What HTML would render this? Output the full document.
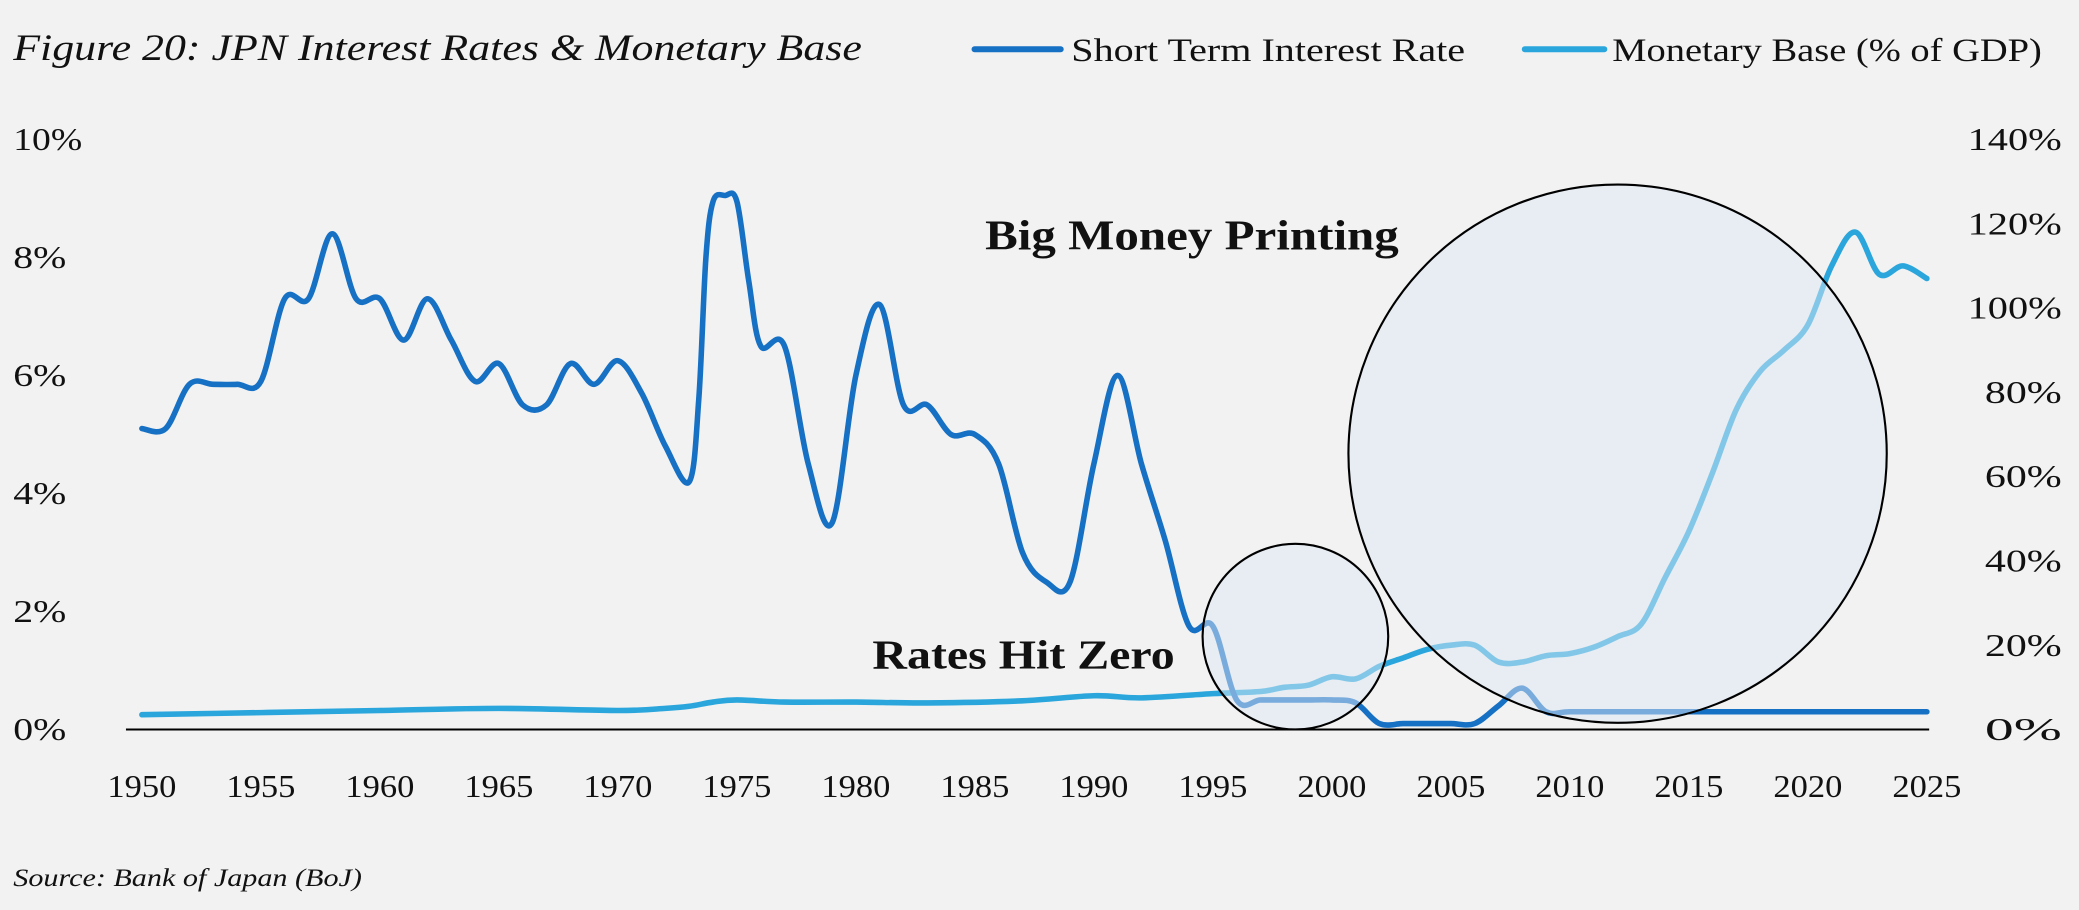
<!DOCTYPE html>
<html><head><meta charset="utf-8"><style>
html,body{margin:0;padding:0;background:#f2f2f2;}
svg{display:block;}
text{font-family:"Liberation Serif",serif;fill:#111;}
</style></head><body>
<svg id="s" width="2079" height="910" viewBox="0 0 1568 686" xmlns="http://www.w3.org/2000/svg">
<rect width="1568" height="686" fill="#f2f2f2"/>
<text x="10" y="45" font-size="28" font-style="italic" textLength="640" lengthAdjust="spacingAndGlyphs">Figure 20: JPN Interest Rates &amp; Monetary Base</text>
<line x1="735" y1="37" x2="800" y2="37" stroke="#1670c4" stroke-width="4.5" stroke-linecap="round"/>
<text x="808" y="46" font-size="25" textLength="297" lengthAdjust="spacingAndGlyphs">Short Term Interest Rate</text>
<line x1="1150" y1="37" x2="1210" y2="37" stroke="#2aa6dc" stroke-width="4.5" stroke-linecap="round"/>
<text x="1216" y="46" font-size="25" textLength="324" lengthAdjust="spacingAndGlyphs">Monetary Base (% of GDP)</text>
<g font-size="24" text-anchor="start" id="ly"></g>
<g font-size="24" text-anchor="end" id="ry"></g>
<g font-size="24" text-anchor="middle" id="xl"></g>
<path id="base" fill="none" stroke="#2aa6dc" stroke-width="4.2" stroke-linejoin="round" stroke-linecap="round"/>
<path id="rate" fill="none" stroke="#1670c4" stroke-width="4.2" stroke-linejoin="round" stroke-linecap="round"/>
<line x1="95" y1="550" x2="1455" y2="550" stroke="#000" stroke-width="1.5"/>
<circle cx="977" cy="480" r="70" fill="#dce8f4" fill-opacity="0.5" stroke="#000" stroke-width="1.6"/>
<circle cx="1220" cy="342" r="203" fill="#dce8f4" fill-opacity="0.5" stroke="#000" stroke-width="1.6"/>
<text x="743" y="188" font-size="32" font-weight="bold" textLength="312" lengthAdjust="spacingAndGlyphs">Big Money Printing</text>
<text x="658" y="504" font-size="31" font-weight="bold" textLength="228" lengthAdjust="spacingAndGlyphs">Rates Hit Zero</text>
<text x="10" y="668" font-size="19" font-style="italic" textLength="263" lengthAdjust="spacingAndGlyphs">Source: Bank of Japan (BoJ)</text>
</svg>
<script>
var NS="http://www.w3.org/2000/svg";
function X(y){return 107+(y-1950)*17.95;}
function YL(v){return 550-v*44.5;}
function YR(v){return 550-v*445/140;}
function t(g,x,y,s,w){var e=document.createElementNS(NS,"text");e.setAttribute("x",x);e.setAttribute("y",y);if(w){e.setAttribute("textLength",w);e.setAttribute("lengthAdjust","spacingAndGlyphs");}e.textContent=s;document.getElementById(g).appendChild(e);}
for(var i=0;i<=10;i+=2)t("ly",10,YL(i)+8,i+"%",i==10?52:40);
for(var i=0;i<=140;i+=20)t("ry",1555,YR(i)+8,i+"%",i>=100?71:58);
for(var y=1950;y<=2025;y+=5)t("xl",X(y),601,y,52);
function path(d,fy){var p=d.map(function(a){return[X(a[0]),fy(a[1])];});
var s="M"+p[0][0]+","+p[0][1];
for(var i=0;i<p.length-1;i++){var p0=p[i-1]||p[i],p1=p[i],p2=p[i+1],p3=p[i+2]||p2;
var c1=[p1[0]+(p2[0]-p0[0])/6,p1[1]+(p2[1]-p0[1])/6],c2=[p2[0]-(p3[0]-p1[0])/6,p2[1]-(p3[1]-p1[1])/6];
s+=" C"+c1+" "+c2+" "+p2;}return s;}
var rate=[[1950,5.1],[1951,5.1],[1952,5.85],[1953,5.85],[1954,5.85],[1955,5.9],[1956,7.3],[1957,7.3],[1958,8.4],[1959,7.3],[1960,7.3],[1961,6.6],[1962,7.3],[1963,6.6],[1964,5.9],[1965,6.2],[1966,5.5],[1967,5.5],[1968,6.2],[1969,5.85],[1970,6.25],[1971,5.7],[1972,4.8],[1973,4.2],[1973.4,5.6],[1973.7,8.0],[1974,8.95],[1974.5,9.05],[1975,8.95],[1975.5,7.6],[1976,6.5],[1977,6.5],[1978,4.5],[1979,3.5],[1980,6.0],[1981,7.2],[1982,5.5],[1983,5.5],[1984,5.0],[1985,5.0],[1986,4.5],[1987,3.0],[1988,2.5],[1989,2.5],[1990,4.5],[1991,6.0],[1992,4.5],[1993,3.2],[1994,1.75],[1995,1.75],[1996,0.5],[1997,0.5],[1998,0.5],[1999,0.5],[2000,0.5],[2001,0.45],[2002,0.1],[2003,0.1],[2004,0.1],[2005,0.1],[2006,0.1],[2007,0.4],[2008,0.7],[2009,0.3],[2010,0.3],[2012,0.3],[2015,0.3],[2020,0.3],[2025,0.3]];
var base=[[1950,3.5],[1955,4],[1960,4.5],[1965,5],[1970,4.5],[1972,5],[1973,5.5],[1974,6.5],[1975,7],[1977,6.5],[1980,6.5],[1983,6.3],[1987,6.8],[1990,8],[1992,7.5],[1995,8.5],[1997,9],[1998,10],[1999,10.5],[2000,12.5],[2001,12],[2002,15],[2003,17],[2004,19],[2005,20],[2006,20],[2007,16],[2008,16],[2009,17.5],[2010,18],[2011,19.5],[2012,22],[2013,25],[2014,36],[2015,47],[2016,61],[2017,76],[2018,85],[2019,90],[2020,96],[2021,110],[2022,118],[2023,108],[2024,110],[2025,107]];
document.getElementById("rate").setAttribute("d",path(rate,YL));
document.getElementById("base").setAttribute("d",path(base,YR));
</script>
</body></html>
